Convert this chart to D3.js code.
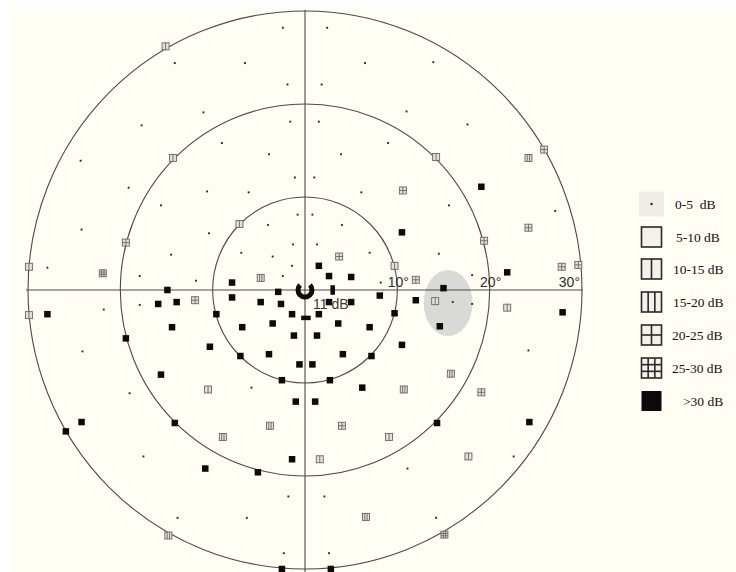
<!DOCTYPE html>
<html>
<head>
<meta charset="utf-8">
<script src="https://cdn.jsdelivr.net/npm/d3@7"></script>
<style>
  html, body { margin: 0; padding: 0; background: #ffffff; }
  svg { display: block; }
  text { white-space: pre; }
</style>
</head>
<body>
<svg id="chart" width="736" height="572"></svg>
<script>
// Visual field threshold map (points in degrees of eccentricity, x = nasal/temporal, y = superior/inferior)

// Sensitivity classes shown in the legend
const classLabels = ["0-5  dB", "5-10 dB", "10-15 dB", "15-20 dB", "20-25 dB", "25-30 dB", ">30 dB"];

// 0-5 dB test points [x°, y°]
const loss0_5 = [
  [-14.1, 24.4], [-6.5, 24.4], [-2.4, 28.2], [-1.9, 22.1], [-11.0, 19.1], [-17.7, 17.7],
  [-1.6, 18.1], [-9.0, 15.8], [-3.9, 14.6], [-24.3, 13.9], [-1.1, 12.1], [-19.1, 11.0],
  [-10.6, 10.6], [-6.1, 10.5], [-15.6, 9.1], [-0.8, 8.1], [-4.0, 7.0], [-24.2, 6.5],
  [-10.4, 6.1], [-1.3, 4.9], [-6.9, 4.0], [-3.5, 3.6], [-14.5, 3.8], [-1.4, 2.6],
  [-27.9, 2.4], [-17.9, 1.5], [-2.4, 1.5], [-11.8, 1.0],
  [2.4, 28.2], [6.5, 24.4], [13.9, 24.5], [1.8, 22.1], [11.0, 19.2], [17.6, 17.8],
  [1.5, 18.1], [9.0, 15.8], [3.9, 14.6], [1.0, 12.1], [6.1, 10.5], [15.6, 9.1],
  [27.1, 8.5], [0.8, 8.1], [4.0, 7.0], [1.3, 4.9], [7.0, 4.0], [14.5, 3.9],
  [18.1, 1.6], [8.2, 0.8],
  [-21.8, -2.1], [-17.9, -1.6], [-24.1, -6.6], [-19.0, -11.1], [-5.8, -10.5], [-17.5, -17.9],
  [-1.8, -22.2], [-13.8, -24.5], [-6.3, -24.5], [-2.3, -28.3],
  [16.0, -1.3], [18.1, -1.5], [24.2, -6.5], [22.6, -17.9], [11.1, -19.2], [2.1, -22.2],
  [14.2, -24.5], [2.6, -28.3]
];

// 10-15 dB test points
const loss10_15 = [
  [-15.1, 26.2], [-14.3, 14.2], [-7.1, 7.1], [-29.9, 2.5], [14.2, 14.3], [9.7, 2.6],
  [-29.9, -2.7], [-10.5, -10.7], [14.1, -1.2], [21.9, -1.9], [9.1, -15.8], [1.6, -18.2],
  [17.7, -17.9]
];

// 15-20 dB test points
const loss15_20 = [
  [-4.8, 1.3], [24.2, 14.2], [-3.8, -14.6], [-8.9, -15.8], [15.8, -9.0], [10.7, -10.7],
  [6.6, -24.4], [-14.8, -26.4]
];

// 20-25 dB test points
const loss20_25 = [
  [-19.4, 5.1], [25.9, 15.1], [10.6, 10.7], [24.2, 6.7], [19.4, 5.3], [3.7, 3.6],
  [27.8, 2.5], [29.6, 2.7], [12.0, 1.1], [-11.9, -1.1], [19.1, -11.0], [4.0, -14.6]
];

// 25-30 dB test points
const loss25_30 = [
  [-21.9, 1.8], [15.1, -26.3]
];

// >30 dB test points
const lossOver30 = [
  [19.1, 11.1], [10.5, 6.2], [1.5, 2.6], [2.6, 1.5], [5.0, 1.4], [21.9, 1.9], [15.0, 0.2],
  [-7.9, 0.8], [-14.9, 0.0], [-2.9, -0.2], [-7.9, -0.8], [-4.8, -1.3], [-2.6, -1.5],
  [2.6, -1.3], [5.0, -1.3], [8.1, -0.6], [-9.6, -2.6], [-1.4, -2.6], [1.5, -2.6], [9.7, -2.5],
  [-6.8, -4.0], [-3.5, -3.6], [3.6, -3.6], [7.0, -4.0], [-1.2, -4.9], [1.3, -4.9],
  [-10.3, -6.1], [-7.0, -7.1], [-3.9, -6.9], [4.1, -6.9], [7.2, -7.1],
  [-27.9, -2.6], [-15.9, -1.5], [-13.9, -1.3], [-14.4, -4.0], [-19.4, -5.2],
  [-0.6, -8.0], [0.8, -8.0], [-15.6, -9.1], [-2.5, -9.7], [-1.0, -12.0],
  [-24.2, -14.2], [-25.9, -15.2], [-14.1, -14.3], [-1.4, -18.2], [-10.8, -19.2], [-5.1, -19.6],
  [-2.5, -30.0], [12.0, -1.1], [14.6, -3.9], [27.9, -2.4], [10.5, -5.9], [2.7, -9.7],
  [6.2, -10.5], [1.1, -12.0], [24.3, -14.2], [14.3, -14.3], [2.8, -30.0]
];

// Isopter rings and their labels
const rings = [10, 20, 30];
const ringLabels = ["10°", "20°", "30°"];

// Physiological blind spot: centre and half-axes in degrees
const blindSpot = { cx: 15.5, cy: -1.4, rx: 2.65, ry: 3.55 };

// Foveal threshold and the two fixation bars (degrees)
const fovealValue = "11 dB";
const fixationBars = [[3.0, 0.0, "v"], [0.1, -3.0, "h"]];

// ---------------------------------------------------------------------------
const svg = d3.select("#chart");
const cx = 305, cy = 290;

const x = d3.scaleLinear().domain([-30, 30]).range([cx - 277, cx + 277]);
const y = d3.scaleLinear().domain([-30, 30]).range([cy + 279, cy - 279]);

// paper
svg.append("rect").attr("x", 10).attr("y", 7).attr("width", 726).attr("height", 565)
  .attr("fill", "#fffdf4");

const plot = svg.append("g");

// blind spot
plot.append("ellipse")
  .attr("cx", x(blindSpot.cx)).attr("cy", y(blindSpot.cy))
  .attr("rx", x(blindSpot.rx) - x(0)).attr("ry", y(0) - y(blindSpot.ry))
  .attr("fill", "#d9d9d7");

// rings
plot.selectAll("ellipse.ring").data(rings).join("ellipse")
  .attr("class", "ring")
  .attr("cx", x(0)).attr("cy", y(0))
  .attr("rx", d => x(d) - x(0)).attr("ry", d => y(0) - y(d))
  .attr("fill", "none").attr("stroke", "#4a4a4a").attr("stroke-width", 1.1);

// meridians
plot.append("line").attr("x1", x(0)).attr("x2", x(0)).attr("y1", 10).attr("y2", 572)
  .attr("stroke", "#4a4a4a").attr("stroke-width", 1.1);
plot.append("line").attr("x1", x(-30) - 2).attr("x2", x(30) + 1).attr("y1", y(0)).attr("y2", y(0))
  .attr("stroke", "#4a4a4a").attr("stroke-width", 1.1);

// ring labels
plot.selectAll("text.ringLabel").data(rings).join("text")
  .attr("class", "ringLabel")
  .attr("x", (d, i) => i < 2 ? x(d) + 1 : x(d) - 2)
  .attr("y", y(0) - 3)
  .attr("text-anchor", (d, i) => i < 2 ? "middle" : "end")
  .attr("font-family", "Liberation Sans, Arial, sans-serif")
  .attr("font-size", 14).attr("fill", "#2e2e2e")
  .text((d, i) => ringLabels[i]);

// symbol drawing: [vertical dividers, horizontal dividers] per class
const dividers = [null, [0, 0], [1, 0], [2, 0], [1, 1], [2, 2], null];

function drawSymbol(g, cls, px, py, s, opt) {
  if (cls === 0) {
    if (opt.legend) {
      g.append("rect").attr("x", px - s * 0.62).attr("y", py - s * 0.62)
        .attr("width", s * 1.24).attr("height", s * 1.24).attr("fill", "#efede7");
    }
    g.append("rect").attr("x", px - opt.dot).attr("y", py - opt.dot)
      .attr("width", opt.dot * 2).attr("height", opt.dot * 2).attr("fill", "#2a2a2a");
    return;
  }
  if (cls === 6) {
    g.append("rect").attr("x", px - s / 2).attr("y", py - s / 2)
      .attr("width", s).attr("height", s).attr("fill", "#0b0b0b");
    return;
  }
  const [nv, nh] = dividers[cls];
  g.append("rect").attr("x", px - s / 2).attr("y", py - s / 2)
    .attr("width", s).attr("height", s)
    .attr("fill", opt.fill).attr("stroke", opt.stroke).attr("stroke-width", opt.sw);
  for (let k = 1; k <= nv; k++) {
    const lx = px - s / 2 + s * k / (nv + 1);
    g.append("line").attr("x1", lx).attr("x2", lx).attr("y1", py - s / 2).attr("y2", py + s / 2)
      .attr("stroke", opt.stroke).attr("stroke-width", opt.sw);
  }
  for (let k = 1; k <= nh; k++) {
    const ly = py - s / 2 + s * k / (nh + 1);
    g.append("line").attr("y1", ly).attr("y2", ly).attr("x1", px - s / 2).attr("x2", px + s / 2)
      .attr("stroke", opt.stroke).attr("stroke-width", opt.sw);
  }
}

const pointSets = [loss0_5, [], loss10_15, loss15_20, loss20_25, loss25_30, lossOver30];
const pts = plot.append("g");
pointSets.forEach((set, cls) => {
  set.forEach(([dx, dy]) => {
    const size = cls === 6 ? 6.5 : 7;
    drawSymbol(pts, cls, x(dx), y(dy), size,
      { fill: "#e3e1db", stroke: "#666", sw: 0.9, dot: 0.95 });
  });
});

// fixation ring (open at the top)
const arc = d3.arc().innerRadius(4.5).outerRadius(9.5)
  .startAngle(Math.PI * 0.25).endAngle(Math.PI * 1.75);
plot.append("path").attr("d", arc()).attr("transform", `translate(${x(0)},${y(0)})`)
  .attr("fill", "#0b0b0b");

// fixation bars
fixationBars.forEach(([bx, by, o]) => {
  const w = o === "v" ? 4.5 : 9.5, h = o === "v" ? 9.5 : 4.5;
  plot.append("rect").attr("x", x(bx) - w / 2).attr("y", y(by) - h / 2)
    .attr("width", w).attr("height", h).attr("fill", "#0b0b0b");
});

// foveal threshold
plot.append("text").attr("x", x(0) + 8).attr("y", y(0) + 19)
  .attr("font-family", "Liberation Sans, Arial, sans-serif")
  .attr("font-size", 14).attr("fill", "#3a3a3a")
  .text(fovealValue);

// legend
const legend = svg.append("g");
const legendY = [204, 237, 269, 302, 335, 368, 401];
const legendTextX = [675, 676, 673, 673, 672, 672, 683];
classLabels.forEach((lab, i) => {
  drawSymbol(legend, i, 651.5, legendY[i], 20,
    { fill: "#f3f1ec", stroke: "#2a2a2a", sw: 1.6, dot: 1.1, legend: true });
  legend.append("text")
    .attr("x", legendTextX[i]).attr("y", legendY[i] + 4.5)
    .attr("font-family", "Liberation Serif, Times New Roman, serif")
    .attr("font-size", 13.5).attr("fill", "#111")
    .text(lab);
});
</script>
</body>
</html>
